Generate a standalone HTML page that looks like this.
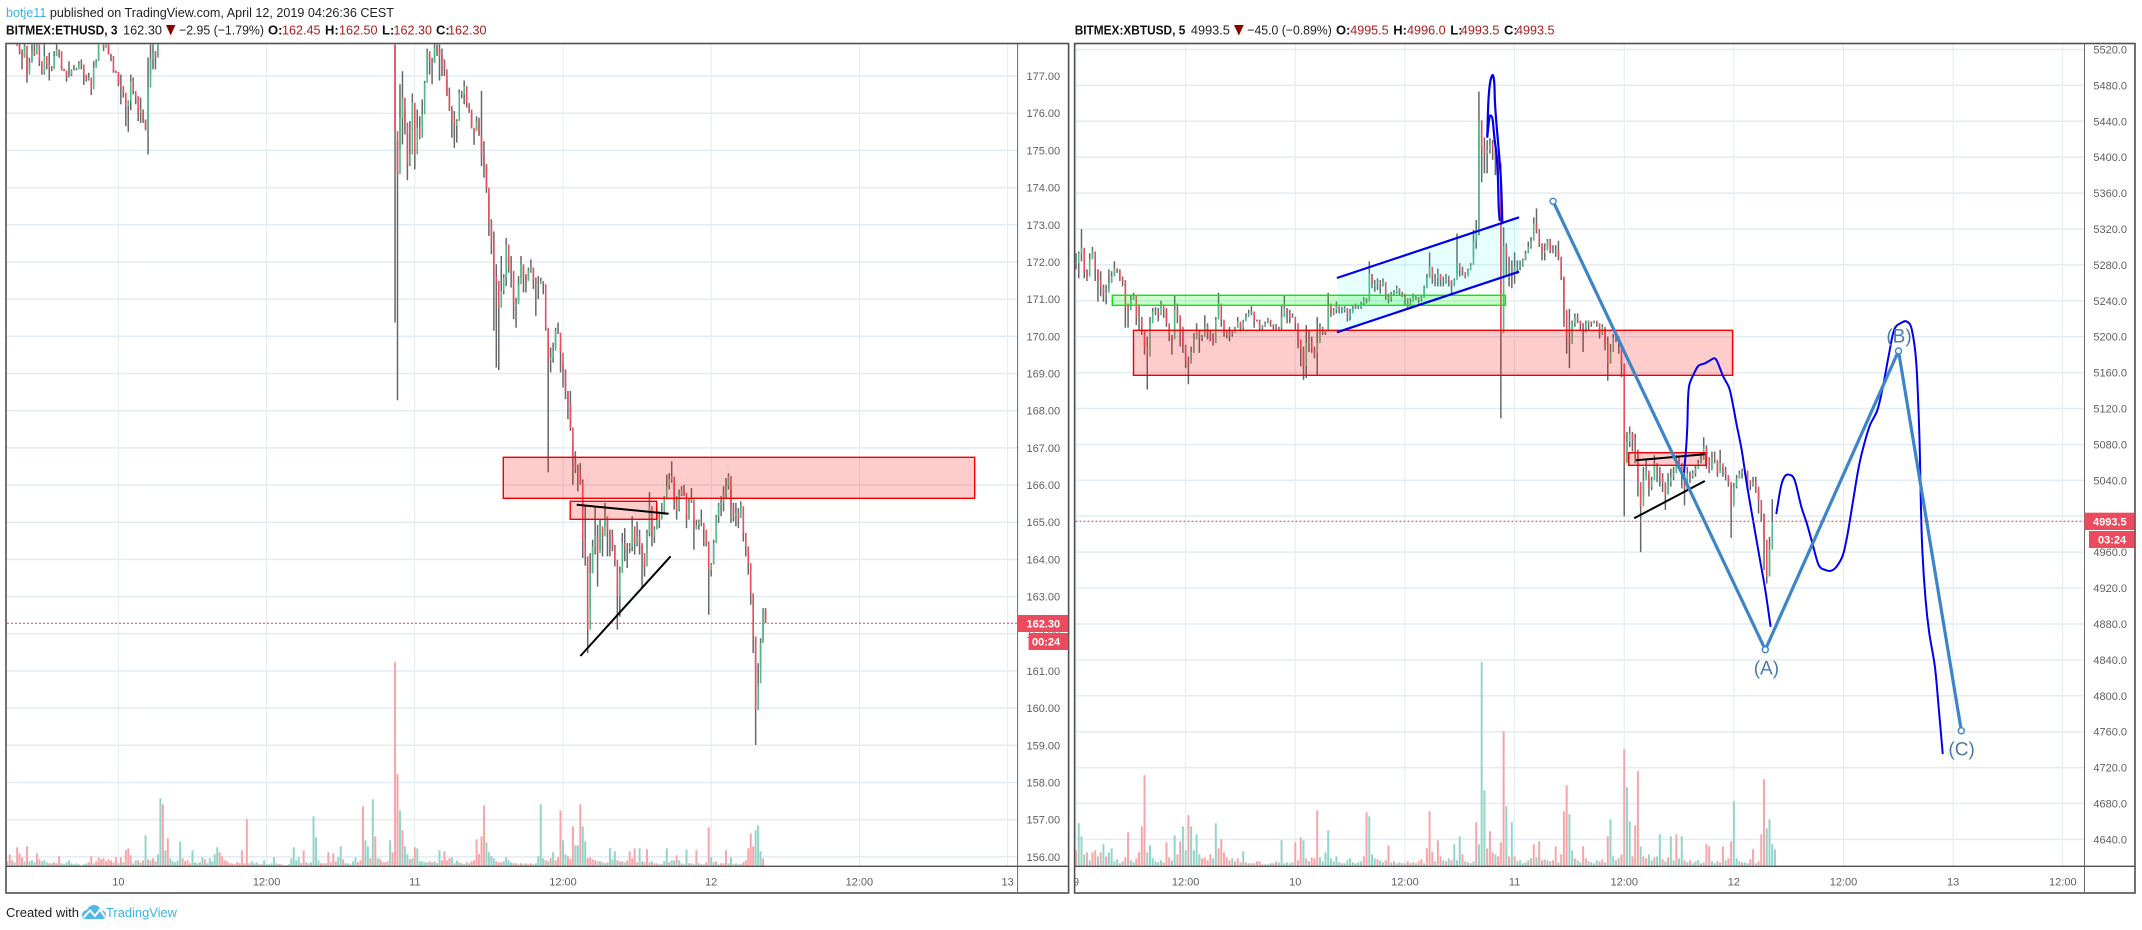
<!DOCTYPE html>
<html lang="en">
<head>
<meta charset="utf-8">
<title>BITMEX ETHUSD and XBTUSD charts</title>
<style>
html,body{margin:0;padding:0;background:#fff;}
svg{display:block;font-family:"Liberation Sans",sans-serif;}
.hdr{font-size:13px;fill:#222;}
.hb{font-size:13px;font-weight:bold;fill:#111;}
.hr{font-size:13px;fill:#a81c1c;}
.ax{font-size:11px;fill:#5f5f5f;}
.wave{font-size:19px;fill:#4a7cab;text-anchor:middle;}
.tag{font-size:11px;font-weight:bold;fill:#fff;}
</style>
</head>
<body>
<svg id="root" xmlns="http://www.w3.org/2000/svg" width="2142" height="930" viewBox="0 0 2142 930">
<defs>
<clipPath id="clip-eth"><rect x="7" y="44.5" width="1010" height="821"/></clipPath>
<clipPath id="clip-xbt"><rect x="1075.5" y="44.5" width="1008" height="821"/></clipPath>
<clipPath id="clip-xbt-time"><rect x="1075.5" y="867" width="1008" height="25"/></clipPath>
</defs>
<rect x="0" y="0" width="2142" height="930" fill="#fff"/>

<text x="6" y="17" class="hdr" textLength="388" lengthAdjust="spacingAndGlyphs"><tspan fill="#3bb3e4">botje11</tspan> published on TradingView.com, April 12, 2019 04:26:36 CEST</text>

<g>
<text x="6" y="34.5" class="hb" textLength="111.5" lengthAdjust="spacingAndGlyphs">BITMEX:ETHUSD, 3</text>
<text x="123" y="34.5" class="hdr" textLength="39" lengthAdjust="spacingAndGlyphs">162.30</text>
<polygon points="166,25 175.4,25 170.7,35.5" fill="#8b0000"/>
<text x="179" y="34.5" class="hdr" textLength="85" lengthAdjust="spacingAndGlyphs">−2.95 (−1.79%)</text>
<text x="268" y="34.5" class="hb">O:</text>
<text x="282" y="34.5" class="hr" textLength="38.5" lengthAdjust="spacingAndGlyphs">162.45</text>
<text x="325" y="34.5" class="hb">H:</text>
<text x="339" y="34.5" class="hr" textLength="38.5" lengthAdjust="spacingAndGlyphs">162.50</text>
<text x="382" y="34.5" class="hb">L:</text>
<text x="393.5" y="34.5" class="hr" textLength="38.5" lengthAdjust="spacingAndGlyphs">162.30</text>
<text x="436" y="34.5" class="hb">C:</text>
<text x="448" y="34.5" class="hr" textLength="38.5" lengthAdjust="spacingAndGlyphs">162.30</text>
</g>

<g>
<text x="1074.7" y="34.5" class="hb" textLength="110.6" lengthAdjust="spacingAndGlyphs">BITMEX:XBTUSD, 5</text>
<text x="1190.9" y="34.5" class="hdr" textLength="39" lengthAdjust="spacingAndGlyphs">4993.5</text>
<polygon points="1234,25 1243.7,25 1238.9,35.5" fill="#8b0000"/>
<text x="1247.3" y="34.5" class="hdr" textLength="84.5" lengthAdjust="spacingAndGlyphs">−45.0 (−0.89%)</text>
<text x="1336" y="34.5" class="hb">O:</text>
<text x="1350.2" y="34.5" class="hr" textLength="38.5" lengthAdjust="spacingAndGlyphs">4995.5</text>
<text x="1393.3" y="34.5" class="hb">H:</text>
<text x="1407" y="34.5" class="hr" textLength="38.7" lengthAdjust="spacingAndGlyphs">4996.0</text>
<text x="1450.3" y="34.5" class="hb">L:</text>
<text x="1460.8" y="34.5" class="hr" textLength="38.6" lengthAdjust="spacingAndGlyphs">4993.5</text>
<text x="1504" y="34.5" class="hb">C:</text>
<text x="1516" y="34.5" class="hr" textLength="38.5" lengthAdjust="spacingAndGlyphs">4993.5</text>
</g>

<g id="eth-grid"></g>
<g id="xbt-grid"></g>
<g id="eth-volume" clip-path="url(#clip-eth)"></g>
<g id="xbt-volume" clip-path="url(#clip-xbt)"></g>
<g id="eth-candles" clip-path="url(#clip-eth)"></g>
<g id="xbt-candles" clip-path="url(#clip-xbt)"></g>

<g>
<rect x="503.3" y="457.3" width="471.4" height="41" fill="#ff0000" fill-opacity="0.2" stroke="#f00000" stroke-width="1.4"/>
<rect x="570.2" y="501.3" width="86.5" height="18" fill="#ff0000" fill-opacity="0.2" stroke="#f00000" stroke-width="1.4"/>
<line x1="576.7" y1="504.7" x2="668.6" y2="513.7" stroke="#000" stroke-width="2"/>
<line x1="580.4" y1="656" x2="670.6" y2="556.3" stroke="#000" stroke-width="2"/>
</g>

<g>
<polygon points="1336.9,278 1519.1,217.3 1519.1,271.7 1336.9,332.3" fill="#00ffff" fill-opacity="0.09"/>
<rect x="1112.3" y="295.3" width="393.1" height="10" fill="#00ff00" fill-opacity="0.2" stroke="#14e014" stroke-width="1.4"/>
<rect x="1133.5" y="330.3" width="599.1" height="45" fill="#ff0000" fill-opacity="0.2" stroke="#f00000" stroke-width="1.4"/>
<rect x="1628.7" y="452.7" width="77.2" height="12.6" fill="#ff0000" fill-opacity="0.2" stroke="#f00000" stroke-width="1.4"/>
<line x1="1336.9" y1="278" x2="1519.1" y2="217.3" stroke="#0000ee" stroke-width="2.2"/>
<line x1="1336.9" y1="332.3" x2="1519.1" y2="271.7" stroke="#0000ee" stroke-width="2.2"/>
<line x1="1636" y1="460.3" x2="1704.8" y2="454.3" stroke="#000" stroke-width="2"/>
<line x1="1634.2" y1="518.3" x2="1704.8" y2="481" stroke="#000" stroke-width="2"/>
<polyline class="smooth" fill="none" stroke="#0000ee" stroke-width="2.2" stroke-linejoin="round" stroke-linecap="round" points="1487.3,136.7 1488.3,103.3 1490,83.3 1492.7,75 1494.3,83.3 1495,103.3 1496.7,126.7 1499,153.3 1500.7,176.7 1501.7,200 1502.3,223.3"/>
<polyline class="smooth" fill="none" stroke="#0000ee" stroke-width="2.2" stroke-linejoin="round" stroke-linecap="round" points="1487.3,136.7 1489.3,118.3 1491,115.7 1492.7,120 1494.3,136.7 1496.7,156.7 1498,180 1498.7,206.7 1499.7,220"/>
<polyline class="smooth" fill="none" stroke="#0000ee" stroke-width="2" stroke-linejoin="round" stroke-linecap="round" points="1684,471.7 1686,450 1687.3,426.7 1688,400 1689.3,385 1693.3,375 1698.3,366 1705,363.3 1710.7,360 1714.3,358.3 1717.3,361.7 1723.3,376.7 1729.3,388.3 1733.3,406.7 1736.7,425 1741.7,450 1746.7,483.3 1753.3,521.7 1760,560 1765.3,590 1770.5,626"/>
<polyline class="smooth" fill="none" stroke="#0000ee" stroke-width="2" stroke-linejoin="round" stroke-linecap="round" points="1776.4,513.3 1780.9,486.7 1784.6,476.7 1789,474.7 1794.6,480 1801.3,506.7 1806.8,523.3 1812.4,543.3 1818.7,565 1825.4,570 1831,570.7 1836.5,566.7 1842.9,555 1847.7,533.3 1853.2,500 1858.8,466.7 1864.4,443.3 1870,425 1877.4,410 1882.9,386.7 1888.5,356.7 1894.1,330 1901.5,322.7 1907.1,321.7 1911.9,330 1916.3,363.3 1919.3,433.3 1920.8,500 1922.3,550 1925.6,600 1929.3,633.3 1934.9,666.7 1938.6,706.7 1942.7,753.3"/>
<polyline fill="none" stroke="#3d85c6" stroke-width="3.2" stroke-linejoin="round" points="1553.1,201.3 1765.3,649.7 1898.5,351 1961.3,730.7"/>
<circle cx="1553.1" cy="201.3" r="3" fill="#fff" stroke="#3d85c6" stroke-width="1.4"/>
<circle cx="1765.3" cy="649.7" r="3" fill="#fff" stroke="#3d85c6" stroke-width="1.4"/>
<circle cx="1898.5" cy="351" r="3" fill="#fff" stroke="#3d85c6" stroke-width="1.4"/>
<circle cx="1961.3" cy="730.7" r="3" fill="#fff" stroke="#3d85c6" stroke-width="1.4"/>
<text x="1766.4" y="674.5" class="wave">(A)</text>
<text x="1899" y="342.5" class="wave">(B)</text>
<text x="1961.6" y="755.5" class="wave">(C)</text>
</g>

<line x1="7" y1="623.3" x2="1017.6" y2="623.3" stroke="#e0404e" stroke-width="1" stroke-dasharray="2 2"/>
<line x1="1075.5" y1="521.3" x2="2084.5" y2="521.3" stroke="#e0404e" stroke-width="1" stroke-dasharray="2 2"/>

<g id="eth-axes"></g>
<g id="xbt-axes"></g>

<g>
<rect x="6" y="43.5" width="1062.6" height="849.5" fill="none" stroke="#505050" stroke-width="1.6"/>
<line x1="1017.6" y1="43.5" x2="1017.6" y2="893" stroke="#6a6a6a" stroke-width="1"/>
<line x1="6" y1="866.3" x2="1068.6" y2="866.3" stroke="#505050" stroke-width="1.4"/>
</g>
<g>
<rect x="1074.6" y="43.5" width="1060.4" height="849.5" fill="none" stroke="#505050" stroke-width="1.6"/>
<line x1="2084.5" y1="43.5" x2="2084.5" y2="893" stroke="#6a6a6a" stroke-width="1"/>
<line x1="1074.6" y1="866.3" x2="2135" y2="866.3" stroke="#505050" stroke-width="1.4"/>
</g>

<g>
<rect x="1017.6" y="615" width="50.6" height="17" fill="#ec4b5e"/>
<text x="1026.5" y="627.5" class="tag">162.30</text>
<rect x="1028.6" y="633" width="39.6" height="17" fill="#ec4b5e"/>
<text x="1032" y="645.5" class="tag">00:24</text>
</g>
<g>
<rect x="2084.5" y="512.7" width="50" height="17.3" fill="#ec4b5e"/>
<text x="2093" y="525.5" class="tag">4993.5</text>
<rect x="2089" y="531" width="45.5" height="17" fill="#ec4b5e"/>
<text x="2098" y="543.5" class="tag">03:24</text>
</g>

<g>
<text x="6" y="917" class="hdr" textLength="73" lengthAdjust="spacingAndGlyphs">Created with</text>
<g>
<path d="M82 915c0-3 3-5 5-5 1-3 4-5 7-5 3 0 6 2 7 5 3 0 5 3 5 5 0 3-2 4-4 4H85c-2 0-3-2-3-4z" fill="#50b8e8"/>
<polyline points="83.5,917.5 90,910.5 95,916 100,909.5 105,917" fill="none" stroke="#fff" stroke-width="2"/>
</g>
<text x="106" y="917" class="hdr" style="fill:#3bb3e4" textLength="71" lengthAdjust="spacingAndGlyphs">TradingView</text>
</g>
</svg>

<script>
// ETHUSD candle values: price high, low, close. Open of each candle is the prior close.
const ethHigh = [
178.9,178.9,178.9,178.9,178,178,177.72,178,177.58,177.49,
178,178,178,177.49,177.31,178,177.36,177.63,177.27,177.67,
177.85,177.69,177.31,177.2,177.09,177.4,177.18,177.3,177.22,177.4,
177.45,177.15,177.04,177.09,176.78,177.4,177.45,177.85,178.2,177.95,
178.2,177.95,177.58,177.18,177.15,177.04,177.04,176.64,176.33,176.35,
177.04,176.96,176.53,176.06,176.42,176.1,175.83,177.5,178,178,
177.67,178.1,
177.85,175.25,176.78,177.13,176.06,175.43,175.79,176.53,175.07,176.1,
175.92,176.37,176.87,177.74,177.58,177.49,177.85,177.85,177.85,177.74,
177.45,176.91,176.69,176.19,176.06,175.84,176.64,176.6,176.88,176.33,
176.24,176.01,175.57,175.92,175.88,176.6,175.25,174.63,173.8,173.15,
172.82,171.94,171.35,172.16,171.67,172.64,172.12,172.16,171.31,171.04,
171.62,172.16,171.89,171.67,171.85,172.07,171.76,171.58,171.62,171.58,
171.44,170.77,170.15,169.7,169.83,170.23,170.37,169.79,169.25,169.11,
168.53,168.53,
167.18,166.91,166.55,166.59,166.15,165.47,164.08,164.17,164.53,165.43,
164.93,165.07,164.71,165.52,165.07,164.8,164.8,164.39,163.36,163.81,
164.71,164.84,164.44,164.44,165.16,164.62,165.02,164.8,164.39,163.95,
164.8,165.81,165.07,164.89,165.38,165.29,165.52,165.7,166.28,166.32,
166.64,166.06,165.7,165.88,165.97,166.01,165.2,165.65,165.92,165.07,
165.07,165.07,165.34,164.98,164.57,164.48,163.9,164.53,165.2,165.52,
165.7,165.97,166.19,166.32,165.88,165.52,165.52,165.38,165.56,165.11,
164.71,164.08,163.63,163,161.84,161.21,161.88,162.69,162.69];
const ethLow = [
178.6,178.6,178.6,178.6,177.81,177.58,177.18,177.54,176.82,177.18,
177.4,177.54,177.8,177.27,177.04,177.04,177.18,176.88,177.13,177.22,
177.54,177.49,177.15,177.13,176.85,176.96,177,177.15,177.16,177.27,
177.18,176.76,176.85,176.88,176.49,176.76,177.3,177.45,177.9,177.67,
177.9,177.58,177.4,177.09,177.09,176.73,176.24,176.42,175.65,175.5,
176.08,176.51,176.24,175.79,175.74,175.74,175.54,174.89,177.04,177.18,
177.18,177.54,
170.37,168.28,175.03,175.16,175.43,174.2,174.58,175.52,174.49,175.03,
175.3,175.7,176.51,177.04,177.04,176.78,177.36,177.54,176.88,177,
177,176.46,176.06,175.34,175.07,175.21,176.01,176.4,176.24,176.15,
176.01,175.59,175.15,175.57,175.39,174.58,174.27,173.86,172.7,172.21,
170.15,169.16,169.09,171.04,171.13,171.35,171.71,171.31,170.46,170.23,
170.95,171.58,171.18,171.18,171.53,171.71,171.27,170.55,171,171.44,
171.13,170.15,166.34,169.03,169.29,169.7,170.06,169.03,168.62,168.31,
167.77,167.46,
166.01,166.32,165.83,166.01,164.04,163.83,161.48,162.64,163.63,164.13,
163.27,164.26,164.08,164.89,164.08,164.08,164.22,163.81,162.11,162.46,
163.81,163.95,163.77,164.17,164.22,164.13,164.35,164.13,163.23,163.54,
164.17,164.62,164.35,164.44,164.84,164.84,165.16,165.2,165.65,165.88,
166.06,165.34,165.07,165.29,165.7,165.7,164.84,165.07,165.52,164.26,
164.84,164.8,164.89,164.35,164.35,162.51,163.54,163.9,164.89,164.98,
165.16,165.29,165.65,165.88,164.98,165.02,164.89,164.84,165.2,164.48,
164.08,163.59,162.78,161.48,159.01,160.54,161.12,161.79,162.29];
const ethClose = [
178.7,178.7,178.7,178.7,177.83,177.63,177.49,177.81,177.04,177.36,
177.67,177.58,177.85,177.4,177.09,177.54,177.31,177.22,177.18,177.54,
177.72,177.67,177.18,177.15,177,177.04,177.15,177.18,177.18,177.36,
177.31,177.04,176.91,176.96,176.64,177.22,177.4,177.85,178,177.76,
178,177.6,177.54,177.13,177.11,176.78,176.73,176.55,176.19,176.33,
176.87,176.6,176.46,176.01,176.1,175.83,175.57,176.69,177.45,177.63,
177.49,177.9,
175.52,174.36,175.88,176.42,175.75,174.63,174.89,176.28,174.89,175.61,
175.34,175.97,176.82,177.67,177.4,177.36,177.76,177.72,177.54,177.4,
177.18,176.51,176.1,175.84,175.66,175.79,176.55,176.51,176.73,176.28,
176.1,175.61,175.52,175.79,175.43,174.89,174.63,174,173.1,172.56,
171.62,171.49,170.77,171.22,171.58,172.47,171.85,171.76,170.86,170.86,
171.4,171.94,171.67,171.49,171.76,171.85,171.53,171.4,171.4,171.49,
171.4,170.23,169.34,169.43,169.61,170.15,170.1,169.56,169.11,168.53,
168.17,167.55,
166.68,166.41,166.32,166.06,164.53,164.08,162.11,163.63,164.35,164.62,
164.17,164.89,164.62,165.16,164.8,164.62,164.35,163.99,163,163.63,
164.44,164.35,164.31,164.35,164.89,164.44,164.62,164.44,164.17,163.81,
164.71,165.43,164.62,164.8,165.29,165.07,165.29,165.61,165.97,166.15,
166.23,165.56,165.34,165.74,165.88,165.79,165.07,165.56,165.61,164.8,
164.93,165.02,164.98,164.8,164.44,163.72,163.86,164.44,165.16,165.47,
165.52,165.74,165.97,166.24,165.43,165.16,165.25,165.11,165.43,164.71,
164.35,163.9,163.09,161.93,159.95,160.67,161.75,162.64,162.30];
// Signed volume: positive = up bar (teal), negative = down bar (pink).
const ethVolume = [
5,-12,-6,4,-19,-13,-9,5,-20,5,6,4,-13,-7,5,6,4,-3,3,-4,
-3,-10,3,2,4,6,3,2,3,2,1,2,3,-4,-10,3,-5,-9,-7,-8,
-5,-7,-6,-4,-9,3,-9,4,-16,-18,-11,3,6,-6,4,-6,31,-7,6,-8,
-5,12,68,-62,16,-28,8,5,4,6,25,-8,-5,-6,-3,16,4,3,4,9,
-7,3,8,5,12,19,-14,-10,-6,-5,-3,-3,-2,-4,-3,-16,-3,-47,-3,5,
3,4,-2,-2,6,2,2,3,9,3,-2,-2,1,1,2,8,19,6,9,-3,
-16,4,-3,4,50,29,6,-3,-3,3,-14,-4,-13,-5,9,20,-7,3,3,-2,
5,9,-4,-6,-60,26,20,-8,67,-30,8,-7,-4,-4,-5,26,-14,-204,-92,56,
-36,20,12,-7,8,-19,18,5,5,4,4,-5,4,-5,3,16,-6,-15,-6,-8,
9,-3,6,-4,3,2,-4,3,-5,-6,-27,-12,-30,-61,24,14,10,8,-5,-4,
-4,5,9,6,4,-3,-3,2,-3,-2,3,-2,-3,2,3,10,62,8,-6,5,
-8,14,-6,-9,-56,26,12,-10,-7,-40,21,21,-62,40,25,-8,-9,-7,-6,5,
-5,4,3,-4,18,7,15,-6,5,-5,4,-6,-15,-8,-18,-4,18,5,-4,-17,
-4,5,-3,-3,2,-2,5,18,-4,6,6,-11,6,-3,2,17,-3,3,2,-16,
3,-2,2,-4,-39,9,4,-5,2,-3,-3,-16,3,9,-2,3,2,-2,-4,-6,
-18,-33,-20,36,41,15,-8];
// Price and time axis values for the ETHUSD chart.
const ethPriceTicks = [177,176,175,174,173,172,171,170,169,168,167,166,165,164,163,162,161,160,159,158,157,156];
const ethTimeHours = [0,12,24,36,48,60,72];
const ethTimeLabels = ["10","12:00","11","12:00","12","12:00","13"];

// XBTUSD candle values: price high, low, close. Open of each candle is the prior close.
const xbtHigh = [
5293,5295,5320,5278,5275,5293,5300,5286,5275,5273,
5258,5258,5275,5273,5284,5276,5275,5267,5263,5237,
5247,5249,5236,5236,5222,5197,5200,5222,5232,5233,
5232,5240,5234,5232,5211,5202,5246,5237,5219,5208,
5191,5178,5189,5204,5215,5208,5202,5224,5215,5208,
5204,5222,5249,5234,5210,5208,5211,5206,5211,5222,
5215,5219,5226,5230,5234,5221,5219,5219,5213,5217,
5221,5217,5213,5214,5211,5236,5246,5232,5230,5226,
5221,5208,5195,5189,5213,5208,5200,5189,5222,5215,
5211,5208,5249,5237,5232,5239,5233,5233,5234,
5230,5231,5235,5237,5235,5239,5244,5243,5284,5270,
5263,5265,5263,5265,5254,5246,5250,5252,5257,5252,
5250,5246,5237,5243,5248,5246,5244,5246,5257,5270,
5294,5270,5270,5276,5268,5267,5270,5268,5261,5265,
5315,5278,5278,5270,5276,5282,5319,5330,5473,5441,
5422,5419,5421,5419,5413,5402,5393,5322,5304,5289,
5285,5294,5285,5285,5287,5296,5306,5311,5333,5343,
5320,5304,5304,5309,5309,5302,5302,5307,5289,5267,
5228,5231,5218,5226,5226,5218,5215,5218,5218,5217,
5218,5218,
5209,5214,5209,5200,5192,5203,5207,5200,5179,5170,
5094,5100,5094,5092,5074,5035,5055,5063,5046,5044,
5068,5059,5055,5048,5037,5048,5053,5055,5068,5066,
5059,5051,5055,5050,5051,5057,5063,5068,
5088,5079,5059,5072,5072,5061,5074,5055,5055,
5042,5035,5037,5046,5051,5053,5053,5048,5040,5044,
5044,5029,5018,5003,4951,4977,5019];
const xbtLow = [
5275,5265,5284,5265,5262,5280,5288,5262,5239,5245,
5239,5236,5254,5260,5269,5271,5262,5256,5210,5210,
5230,5241,5213,5208,5202,5180,5141,5206,5219,5224,
5217,5232,5221,5211,5195,5180,5208,5215,5189,5182,
5165,5147,5174,5182,5202,5182,5195,5202,5197,5195,
5190,5202,5224,5211,5200,5198,5195,5200,5208,5210,
5206,5208,5219,5222,5224,5210,5217,5206,5208,5211,
5215,5211,5208,5208,5208,5208,5226,5215,5215,5221,
5208,5187,5167,5152,5154,5183,5182,5176,5157,5202,
5202,5202,5208,5222,5224,5226,5226,5226,5227,
5217,5218,5230,5231,5231,5231,5235,5237,5252,5254,
5250,5252,5248,5256,5241,5237,5239,5246,5248,5246,
5244,5235,5231,5233,5239,5241,5237,5239,5244,5256,
5267,5259,5256,5256,5256,5256,5259,5256,5248,5259,
5270,5267,5268,5265,5270,5274,5289,5298,5313,5372,
5382,5382,5404,5397,5380,5359,5109,5270,5267,5256,
5254,5259,5270,5274,5278,5285,5293,5298,5307,5315,
5300,5285,5285,5300,5293,5293,5289,5285,5263,5211,
5181,5165,5200,5211,5215,5207,5183,5205,5207,5211,
5215,5211,
5198,5202,5185,5151,5170,5187,5194,5181,5155,5000,
5061,5077,5072,5059,5022,4960,5022,5044,5022,5029,
5048,5038,5033,5027,5007,5026,5033,5040,5053,5053,
5031,5012,5029,5037,5042,5044,5053,5059,
5063,5053,5048,5053,5059,5044,5051,5044,5040,
5033,4976,5022,5031,5042,5042,5046,5029,5029,5033,
5026,5003,4994,4940,4925,4933,4977];
const xbtClose = [
5282,5293,5299,5273,5267,5286,5295,5275,5263,5256,
5247,5249,5260,5267,5276,5273,5267,5262,5234,5230,
5241,5247,5222,5222,5208,5189,5178,5215,5228,5228,
5224,5236,5230,5215,5200,5197,5230,5224,5211,5189,
5174,5170,5183,5197,5208,5200,5200,5211,5204,5198,
5193,5219,5237,5219,5206,5202,5204,5204,5210,5217,
5210,5217,5222,5226,5228,5219,5218,5210,5212,5215,
5219,5214,5211,5211,5210,5222,5232,5226,5222,5222,
5215,5197,5185,5167,5193,5195,5187,5182,5193,5210,
5206,5206,5234,5226,5230,5234,5230,5230,5232,
5222,5226,5231,5232,5233,5237,5241,5239,5270,5259,
5259,5261,5256,5261,5248,5243,5248,5250,5254,5250,
5248,5243,5233,5239,5244,5244,5241,5243,5254,5265,
5278,5267,5265,5270,5263,5261,5267,5263,5256,5263,
5282,5274,5272,5267,5274,5280,5307,5319,5441,5411,
5404,5408,5415,5409,5400,5382,5204,5300,5289,5278,
5270,5278,5278,5280,5285,5293,5300,5307,5326,5320,
5304,5294,5296,5306,5296,5296,5296,5289,5267,5230,
5200,5192,5215,5222,5218,5213,5207,5215,5217,5215,
5217,5215,
5203,5211,5192,5170,5183,5198,5200,5192,5170,5059,
5083,5092,5085,5074,5038,5011,5040,5051,5033,5040,
5059,5051,5044,5038,5024,5038,5044,5048,5063,5059,
5044,5033,5048,5044,5048,5053,5059,5064,
5077,5066,5051,5066,5063,5048,5059,5051,5046,
5038,5011,5033,5042,5048,5050,5051,5040,5035,5038,
5033,5018,5003,4974,4933,4963,4993.5];
// Signed volume: positive = up bar (teal), negative = down bar (pink).
const xbtVolume = [
-16,43,30,12,-14,6,-14,-16,10,-14,22,-10,14,18,5,7,-3,5,-9,-34,
6,4,-8,-14,-40,-91,14,21,8,5,4,6,-4,-24,-9,6,31,-12,-25,40,
16,-51,40,16,32,12,-8,-9,-6,-12,8,43,-18,-27,-14,-9,-6,8,-5,-8,
-4,15,-4,-3,3,-3,-5,-5,-2,2,2,3,-3,-5,4,26,3,4,3,4,
-24,-6,-29,26,-8,5,-9,-8,-56,9,5,14,36,8,5,10,4,-3,3,6,
8,4,3,4,5,-10,-54,50,12,8,-7,6,4,-6,-21,4,-5,3,4,-3,
3,-5,-3,4,3,-5,-7,3,-18,-55,-14,5,-26,-10,6,-5,8,-6,22,6,
30,-12,5,-4,3,5,-44,22,204,76,-18,-35,-14,12,-10,-24,-135,60,-10,44,
-10,5,6,3,4,-6,8,-22,9,-25,-6,7,-6,5,-6,-20,4,-12,-55,-81,
52,16,-8,6,4,-20,-8,5,4,3,6,-5,-7,4,-30,47,10,-6,8,-12,
-117,79,45,-10,-41,-95,20,-10,-8,12,6,-9,10,32,-7,5,-9,30,6,-32,
8,30,-6,4,-6,3,5,6,-3,4,-22,-20,5,3,-5,4,-20,6,-8,-25,
65,8,5,-4,4,3,-7,-17,3,-5,-32,-87,38,47,22,17];
// Price and time axis values for the XBTUSD chart.
const xbtPriceTicks = [5520,5480,5440,5400,5360,5320,5280,5240,5200,5160,5120,5080,5040,5000,4960,4920,4880,4840,4800,4760,4720,4680,4640];
const xbtTimeHours = [0,12,24,36,48,60,72,84,96,108];
const xbtTimeLabels = ["9","12:00","10","12:00","11","12:00","12","12:00","13","12:00"];

const NS = "http://www.w3.org/2000/svg";
const GRID_COLOR = "#e2ecf3";
const WICK_COLOR = "#68686a";
const UP_COLOR = "#53b987";
const DOWN_COLOR = "#eb4d5c";
const VOL_UP_COLOR = "#93d5c9";
const VOL_DOWN_COLOR = "#f6a6a8";
const PANEL_BOTTOM = 866.3;

function svgLine(parent, x1, y1, x2, y2, color, width) {
  const el = document.createElementNS(NS, "line");
  el.setAttribute("x1", x1.toFixed(2));
  el.setAttribute("y1", y1.toFixed(2));
  el.setAttribute("x2", x2.toFixed(2));
  el.setAttribute("y2", y2.toFixed(2));
  el.setAttribute("stroke", color);
  el.setAttribute("stroke-width", width);
  parent.appendChild(el);
  return el;
}
function svgText(parent, x, y, str, anchor) {
  const el = document.createElementNS(NS, "text");
  el.setAttribute("x", x.toFixed(2));
  el.setAttribute("y", y.toFixed(2));
  el.setAttribute("class", "ax");
  el.setAttribute("text-anchor", anchor);
  el.textContent = str;
  parent.appendChild(el);
  return el;
}

// Axis functions.
function ethX(hour) { return 118.4 + hour * 12.35; }
function ethY(price) { return 745.3 - (price - 159) * 37.18; }
function xbtX(hour) { return 1076 + hour * 9.137; }
function xbtY(price) { return 731.7 - (price - 4760) * 0.8977; }
function volumeHeight(v) { return Math.abs(v); }

const ethStartHour = -9, ethStepHours = 0.2;
// Candles after this index resume later: price was above the visible range in between.
const ethGapAfterIndex = 61, ethGapCount = 95;
const xbtStartHour = 0, xbtStepHours = 0.3;

function ethCandleHour(i) {
  const slot = i <= ethGapAfterIndex ? i : i + ethGapCount;
  return ethStartHour + slot * ethStepHours;
}

function drawCandles(parentId, prefix, high, low, close, hourOf, xFn, yFn) {
  const parent = document.getElementById(parentId);
  for (let i = 0; i < close.length; i++) {
    const open = i > 0 ? close[i - 1] : close[i];
    const x = xFn(hourOf(i));
    const wick = svgLine(parent, x, yFn(high[i]), x, yFn(low[i]), WICK_COLOR, 1.5);
    
    
    const yo = yFn(open), yc = yFn(close[i]);
    const y2 = Math.abs(yo - yc) < 1 ? yc + 1 : yc;
    const body = svgLine(parent, x, yo, x, y2, close[i] >= open ? UP_COLOR : DOWN_COLOR, 1.6);
    
    
  }
}

function drawVolume(parentId, prefix, volume, hourOf, xFn) {
  const parent = document.getElementById(parentId);
  for (let i = 0; i < volume.length; i++) {
    const x = xFn(hourOf(i));
    const bar = svgLine(parent, x, PANEL_BOTTOM, x, PANEL_BOTTOM - volumeHeight(volume[i]), volume[i] >= 0 ? VOL_UP_COLOR : VOL_DOWN_COLOR, 2);
    
    
  }
}

function drawGridAndAxes(cfg) {
  const grid = document.getElementById(cfg.prefix + "-grid");
  const axes = document.getElementById(cfg.prefix + "-axes");
  cfg.priceTicks.forEach(function (p) {
    const y = cfg.yFn(p);
    const gl = svgLine(grid, cfg.left, y, cfg.axisX, y, GRID_COLOR, 1.5);
    
    
    const label = svgText(axes, cfg.labelX, y + 4, p.toFixed(cfg.decimals), "start");
    
    
  });
  cfg.timeHours.forEach(function (h, i) {
    const x = cfg.xFn(h);
    const gl = svgLine(grid, x, 44, x, PANEL_BOTTOM, GRID_COLOR, 1);
    
    
    const label = svgText(axes, x, 885.5, cfg.timeLabels[i], "middle");
    
    
    if (cfg.timeClip) label.setAttribute("clip-path", cfg.timeClip);
  });
}

drawGridAndAxes({prefix:"eth", left:7, axisX:1017.6, labelX:1026.5, decimals:2, priceTicks:ethPriceTicks, timeHours:ethTimeHours, timeLabels:ethTimeLabels, xFn:ethX, yFn:ethY});
drawGridAndAxes({prefix:"xbt", left:1075.5, axisX:2084.5, labelX:2093.4, decimals:1, priceTicks:xbtPriceTicks, timeHours:xbtTimeHours, timeLabels:xbtTimeLabels, xFn:xbtX, yFn:xbtY, timeClip:"url(#clip-xbt-time)"});

drawVolume("eth-volume", "eth", ethVolume, function (i) { return ethStartHour + i * ethStepHours; }, ethX);
drawVolume("xbt-volume", "xbt", xbtVolume, function (i) { return xbtStartHour + i * xbtStepHours; }, xbtX);
drawCandles("eth-candles", "eth", ethHigh, ethLow, ethClose, ethCandleHour, ethX, ethY);
drawCandles("xbt-candles", "xbt", xbtHigh, xbtLow, xbtClose, function (i) { return xbtStartHour + i * xbtStepHours; }, xbtX, xbtY);

// Turn hand-drawn brush strokes into smooth curves (annotations, not data series).
document.querySelectorAll("polyline.smooth").forEach(function (poly) {
  const pts = poly.getAttribute("points").trim().split(/\s+/).map(function (s) { return s.split(",").map(Number); });
  let d = "M" + pts[0][0] + " " + pts[0][1];
  for (let i = 0; i < pts.length - 1; i++) {
    const p0 = pts[Math.max(i - 1, 0)], p1 = pts[i], p2 = pts[i + 1], p3 = pts[Math.min(i + 2, pts.length - 1)];
    d += " C" + (p1[0] + (p2[0] - p0[0]) / 6).toFixed(2) + " " + (p1[1] + (p2[1] - p0[1]) / 6).toFixed(2) +
         " " + (p2[0] - (p3[0] - p1[0]) / 6).toFixed(2) + " " + (p2[1] - (p3[1] - p1[1]) / 6).toFixed(2) +
         " " + p2[0] + " " + p2[1];
  }
  const path = document.createElementNS(NS, "path");
  Array.from(poly.attributes).forEach(function (a) {
    if (a.name !== "points" && a.name !== "class") path.setAttribute(a.name, a.value);
  });
  path.setAttribute("d", d);
  poly.parentNode.replaceChild(path, poly);
});
</script>
</body>
</html>
